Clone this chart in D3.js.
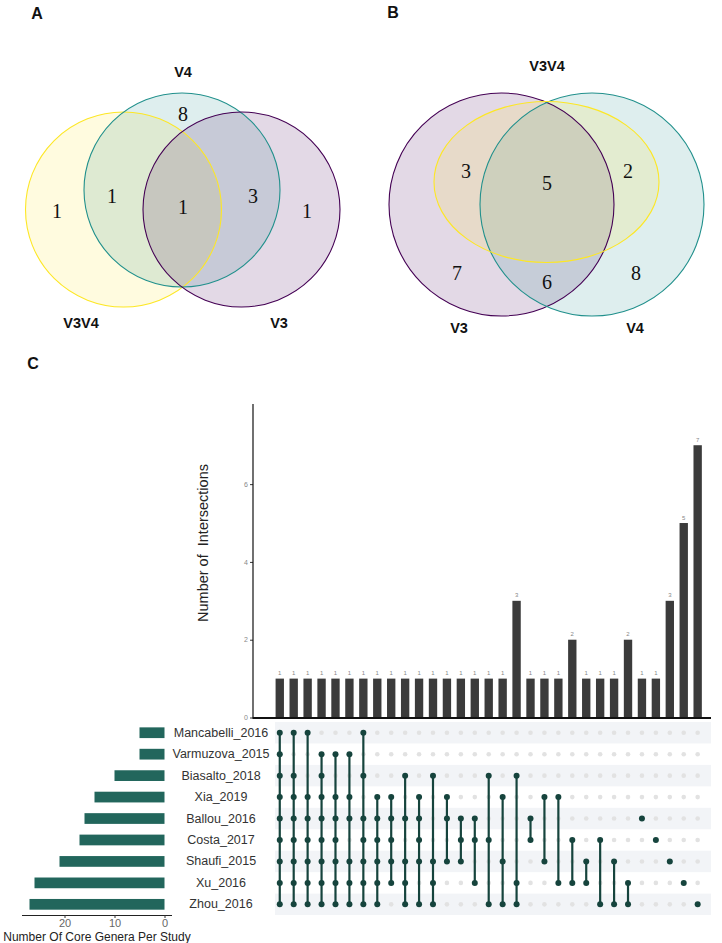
<!DOCTYPE html>
<html><head><meta charset="utf-8">
<script src="https://cdn.jsdelivr.net/npm/d3@7"></script>
<style>body{margin:0;background:#fff} svg{display:block}</style>
</head><body>
<svg id="c" width="722" height="943"></svg>
<script>
// ---------- DATA ----------
const vennASetNames = ["V3V4", "V4", "V3"];
// regions: V3V4 only, V3V4&V4, all three, V4&V3, V3 only, V4 only
const vennACounts = [1, 1, 1, 3, 1, 8];
const vennBSetNames = ["V3V4", "V3", "V4"];
// regions: V3&V3V4, all three, V4&V3V4, V3 only, V3&V4, V4 only
const vennBCounts = [3, 5, 2, 7, 6, 8];

const studies = ["Mancabelli_2016","Varmuzova_2015","Biasalto_2018","Xia_2019","Ballou_2016","Costa_2017","Shaufi_2015","Xu_2016","Zhou_2016"];
const setSizes = [5, 5, 10, 14, 16, 17, 21, 26, 27];
const intersections = [
  ["Mancabelli_2016","Varmuzova_2015","Biasalto_2018","Xia_2019","Ballou_2016","Costa_2017","Shaufi_2015","Xu_2016","Zhou_2016"],
  ["Mancabelli_2016","Biasalto_2018","Xia_2019","Ballou_2016","Costa_2017","Shaufi_2015","Xu_2016","Zhou_2016"],
  ["Mancabelli_2016","Xia_2019","Ballou_2016","Costa_2017","Shaufi_2015","Xu_2016","Zhou_2016"],
  ["Varmuzova_2015","Biasalto_2018","Xia_2019","Ballou_2016","Costa_2017","Shaufi_2015","Xu_2016","Zhou_2016"],
  ["Varmuzova_2015","Xia_2019","Ballou_2016","Costa_2017","Shaufi_2015","Xu_2016","Zhou_2016"],
  ["Varmuzova_2015","Xia_2019","Ballou_2016","Shaufi_2015","Xu_2016","Zhou_2016"],
  ["Mancabelli_2016","Biasalto_2018","Ballou_2016","Costa_2017","Shaufi_2015","Xu_2016","Zhou_2016"],
  ["Xia_2019","Ballou_2016","Costa_2017","Shaufi_2015","Xu_2016","Zhou_2016"],
  ["Xia_2019","Ballou_2016","Costa_2017","Shaufi_2015","Xu_2016"],
  ["Biasalto_2018","Ballou_2016","Shaufi_2015","Xu_2016","Zhou_2016"],
  ["Xia_2019","Ballou_2016","Costa_2017","Shaufi_2015","Zhou_2016"],
  ["Biasalto_2018","Shaufi_2015","Xu_2016","Zhou_2016"],
  ["Xia_2019","Ballou_2016","Shaufi_2015"],
  ["Ballou_2016","Costa_2017","Shaufi_2015"],
  ["Ballou_2016","Costa_2017","Xu_2016"],
  ["Biasalto_2018","Costa_2017","Zhou_2016"],
  ["Xia_2019","Shaufi_2015","Zhou_2016"],
  ["Biasalto_2018","Xu_2016","Zhou_2016"],
  ["Ballou_2016","Costa_2017"],
  ["Xia_2019","Shaufi_2015"],
  ["Xia_2019","Xu_2016"],
  ["Costa_2017","Xu_2016"],
  ["Shaufi_2015","Xu_2016"],
  ["Costa_2017","Zhou_2016"],
  ["Shaufi_2015","Zhou_2016"],
  ["Xu_2016","Zhou_2016"],
  ["Ballou_2016"],
  ["Costa_2017"],
  ["Shaufi_2015"],
  ["Xu_2016"],
  ["Zhou_2016"]
];
const intersectionSizes = [1,1,1,1,1,1,1,1,1,1,1,1,1,1,1,1,1,3,1,1,1,2,1,1,1,2,1,1,3,5,7];
const mainTicks = [0, 2, 4, 6];
const setTicks = [0, 10, 20];

// ---------- DRAW ----------
const svg = d3.select("#c");
const SANS = "'Liberation Sans', Arial, Helvetica, sans-serif";
const SERIF = "'Liberation Serif', 'Times New Roman', serif";
const col = {yellow:"#FDE725", teal:"#21908C", purple:"#440154"};

function panelLetter(t, x, y){
  svg.append("text").attr("x",x).attr("y",y).text(t)
    .attr("font-family",SANS).attr("font-weight","bold").attr("font-size",16)
    .attr("text-anchor","middle").attr("dominant-baseline","central").attr("fill","#111");
}
function vennLabel(t,x,y){
  svg.append("text").attr("x",x).attr("y",y).text(t)
    .attr("font-family",SANS).attr("font-weight","bold").attr("font-size",14.5)
    .attr("text-anchor","middle").attr("dominant-baseline","central").attr("fill","#111");
}
function vennNum(t,x,y){
  svg.append("text").attr("x",x).attr("y",y).text(t)
    .attr("font-family",SERIF).attr("font-size",20)
    .attr("text-anchor","middle").attr("dominant-baseline","central").attr("fill","#111");
}

// Venn A
const shapesA = [
  {set:"V3V4", cx:123.5, cy:209.5, rx:98, ry:97.5, c:col.yellow},
  {set:"V4", cx:182, cy:190, rx:98, ry:97, c:col.teal},
  {set:"V3", cx:241.5, cy:209.5, rx:98.5, ry:97.5, c:col.purple}
];
const gA = svg.append("g");
gA.selectAll("ellipse.f").data(shapesA).join("ellipse")
  .attr("cx",d=>d.cx).attr("cy",d=>d.cy).attr("rx",d=>d.rx).attr("ry",d=>d.ry)
  .attr("fill",d=>d.c).attr("fill-opacity",0.15).attr("stroke","none");
gA.selectAll("ellipse.s").data(shapesA).join("ellipse")
  .attr("cx",d=>d.cx).attr("cy",d=>d.cy).attr("rx",d=>d.rx).attr("ry",d=>d.ry)
  .attr("fill","none").attr("stroke",d=>d.c).attr("stroke-width",1.1);
const posA = [[57,211],[112,196],[183,207],[253,196],[307,211],[183,114]];
vennACounts.forEach((v,i)=>vennNum(v,posA[i][0],posA[i][1]));
vennLabel(vennASetNames[1],183,72);
vennLabel(vennASetNames[0],81,323);
vennLabel(vennASetNames[2],279,323);
panelLetter("A",37,13);

// Venn B
const shapesB = [
  {set:"V3", cx:501.5, cy:204.5, rx:112.5, ry:111.5, c:col.purple},
  {set:"V4", cx:592, cy:204.5, rx:112, ry:111.5, c:col.teal},
  {set:"V3V4", cx:546.5, cy:182, rx:112.5, ry:80.5, c:col.yellow}
];
const gB = svg.append("g");
gB.selectAll("ellipse.f").data(shapesB).join("ellipse")
  .attr("cx",d=>d.cx).attr("cy",d=>d.cy).attr("rx",d=>d.rx).attr("ry",d=>d.ry)
  .attr("fill",d=>d.c).attr("fill-opacity",0.15).attr("stroke","none");
gB.selectAll("ellipse.s").data(shapesB).join("ellipse")
  .attr("cx",d=>d.cx).attr("cy",d=>d.cy).attr("rx",d=>d.rx).attr("ry",d=>d.ry)
  .attr("fill","none").attr("stroke",d=>d.c).attr("stroke-width",1.1);
const posB = [[466,171],[547,183],[628,171],[457,273],[547,282],[636,273]];
vennBCounts.forEach((v,i)=>vennNum(v,posB[i][0],posB[i][1]));
vennLabel(vennBSetNames[0],547,66);
vennLabel(vennBSetNames[1],459,328);
vennLabel(vennBSetNames[2],635,328);
panelLetter("B",393,12);

// Panel C
panelLetter("C",33,363);

const x = d3.scaleBand().domain(d3.range(intersectionSizes.length))
  .range([272.8, 272.8 + 31*13.93]).paddingInner(0.4).paddingOuter(0.2);
const y = d3.scaleLinear().domain([0, 8.06]).range([717.5, 404]);
const rows = d3.scaleBand().domain(studies).range([722, 722 + 9*21.45]).paddingInner(0.5).paddingOuter(0.25);
const rowStep = 21.45;
const rowC = s => 722 + rowStep*(studies.indexOf(s)+0.5);
const colC = j => x(j) + x.bandwidth()/2;

// main bars
svg.append("g").selectAll("rect").data(intersectionSizes).join("rect")
  .attr("x",(d,i)=>x(i)).attr("width",x.bandwidth())
  .attr("y",d=>y(d)).attr("height",d=>y(0)-y(d)).attr("fill","#3b3b3b");
svg.append("g").selectAll("text").data(intersectionSizes).join("text")
  .attr("x",(d,i)=>colC(i)).attr("y",d=>y(d)-3.5).text(d=>d)
  .attr("font-family",SANS).attr("font-size",6).attr("fill","#888").attr("text-anchor","middle");

const yAxis = svg.append("g").attr("transform","translate(253,0)")
  .call(d3.axisLeft(y).tickValues(mainTicks).tickSize(3).tickSizeOuter(0).tickPadding(2));
yAxis.select(".domain").remove();
yAxis.selectAll(".tick line").attr("stroke","#333");
yAxis.selectAll(".tick text").attr("font-family",SANS).attr("font-size",7).attr("fill","#888");
svg.append("line").attr("x1",253).attr("x2",253).attr("y1",404).attr("y2",y(0)).attr("stroke","#111").attr("stroke-width",1.2);
svg.append("line").attr("x1",252.5).attr("x2",711).attr("y1",y(0)+0.5).attr("y2",y(0)+0.5).attr("stroke","#111").attr("stroke-width",2);

svg.append("text").attr("transform","translate(203,543) rotate(-90)")
  .attr("text-anchor","middle").attr("dominant-baseline","central")
  .attr("font-family",SANS).attr("font-size",14.5).attr("fill","#222")
  .style("white-space","pre").text("Number of  Intersections");

// matrix background stripes
svg.append("g").selectAll("rect").data(studies.filter((s,i)=>i%2===0)).join("rect")
  .attr("x",275).attr("width",711-275)
  .attr("y",s=>rowC(s)-rowStep/2).attr("height",rowStep).attr("fill","#f2f4f7");

// inactive dots
const grid = [];
intersections.forEach((mem,j)=>studies.forEach(s=>grid.push({j,s,on:mem.includes(s)})));
svg.append("g").selectAll("circle").data(grid.filter(d=>!d.on)).join("circle")
  .attr("cx",d=>colC(d.j)).attr("cy",d=>rowC(d.s)).attr("r",2.3).attr("fill","#e2e2e2");
// lines
svg.append("g").selectAll("line").data(intersections.filter(m=>m.length>1).map(m=>({m,j:intersections.indexOf(m)}))).join("line")
  .attr("x1",d=>colC(d.j)).attr("x2",d=>colC(d.j))
  .attr("y1",d=>d3.min(d.m,rowC)).attr("y2",d=>d3.max(d.m,rowC))
  .attr("stroke","#16443d").attr("stroke-width",2.2);
// active dots
svg.append("g").selectAll("circle").data(grid.filter(d=>d.on)).join("circle")
  .attr("cx",d=>colC(d.j)).attr("cy",d=>rowC(d.s)).attr("r",3).attr("fill","#16443d");

// set size bars
const xs = d3.scaleLinear().domain([-1.4, 28.6]).range([171.5, 21.5]);
svg.append("g").selectAll("rect").data(studies).join("rect")
  .attr("x",(s,i)=>xs(setSizes[i])).attr("width",(s,i)=>xs(0)-xs(setSizes[i]))
  .attr("y",s=>rows(s)).attr("height",rows.bandwidth()).attr("fill","#22665c");
const xAxisS = svg.append("g").attr("transform","translate(0,915)")
  .call(d3.axisBottom(xs).tickValues(setTicks).tickSize(3).tickSizeOuter(0).tickPadding(1.5));
xAxisS.select(".domain").attr("stroke","#222");
xAxisS.selectAll(".tick line").attr("stroke","#333");
xAxisS.selectAll(".tick text").attr("font-family",SANS).attr("font-size",11).attr("fill","#666");
svg.append("text").attr("x",97).attr("y",937).attr("text-anchor","middle").attr("dominant-baseline","central")
  .attr("font-family",SANS).attr("font-size",12).attr("fill","#222").text("Number Of Core Genera Per Study");

// set labels
svg.append("g").selectAll("text").data(studies).join("text")
  .attr("x",221).attr("y",s=>rowC(s)).text(s=>s)
  .attr("text-anchor","middle").attr("dominant-baseline","central")
  .attr("font-family",SANS).attr("font-size",12.5).attr("fill","#333");
</script>
</body></html>
